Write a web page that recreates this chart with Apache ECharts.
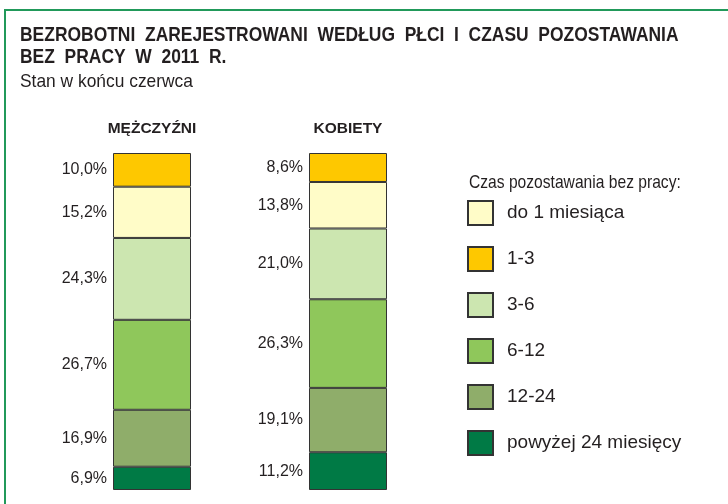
<!DOCTYPE html>
<html>
<head>
<meta charset="utf-8">
<script src="https://cdn.jsdelivr.net/npm/echarts@6/dist/echarts.min.js"></script>
<style>
  html, body { margin: 0; padding: 0; background: #fff; }
  #chart { width: 728px; height: 504px; }
</style>
</head>
<body>
<div id="chart"></div>
<script>
// groups (bars)
var groups = ["MĘŻCZYŹNI", "KOBIETY"];

// duration categories, stacked bottom -> top
var durations = ["powyżej 24 miesięcy", "12-24", "6-12", "3-6", "do 1 miesiąca", "1-3"];
var colors = ["#007a45", "#8fad6a", "#8fc75b", "#cce6b0", "#fffcc8", "#fec800"];

// percent shares, same order as durations: [men, women]
var over24 = [6.9, 11.2];
var m12to24 = [16.9, 19.1];
var m6to12 = [26.7, 26.3];
var m3to6 = [24.3, 21.0];
var upTo1 = [15.2, 13.8];
var m1to3 = [10.0, 8.6];
var values = [over24, m12to24, m6to12, m3to6, upTo1, m1to3];

// legend order as shown
var legendOrder = ["do 1 miesiąca", "1-3", "3-6", "6-12", "12-24", "powyżej 24 miesięcy"];

var font = "'Liberation Sans', Arial, sans-serif";
var ink = "#231f20";

// narrow-looking text: regular font squeezed horizontally
function squeezed(text, x, y, size, bold, sx) {
  return {
    type: "text",
    x: x,
    y: y,
    scaleX: sx,
    silent: true,
    style: {
      text: text,
      font: (bold ? "bold " : "") + size + "px " + font,
      fill: ink,
      textAlign: "left",
      textVerticalAlign: "middle"
    }
  };
}

var chart = echarts.init(document.getElementById("chart"));

var series = durations.map(function (name, i) {
  return {
    name: name,
    type: "bar",
    stack: "total",
    barWidth: 78,
    data: values[i],
    itemStyle: {
      color: colors[i],
      borderColor: "#333",
      borderWidth: 1
    },
    label: {
      show: true,
      position: "left",
      distance: 6,
      fontFamily: font,
      fontSize: 16,
      color: ink,
      formatter: function (p) {
        return p.value.toFixed(1).replace(".", ",") + "%";
      }
    },
    emphasis: { disabled: true },
    animation: false
  };
});

chart.setOption({
  animation: false,
  legend: {
    orient: "vertical",
    left: 467,
    top: 200,
    padding: 0,
    itemWidth: 25,
    itemHeight: 24,
    itemGap: 20,
    icon: "rect",
    data: legendOrder,
    selectedMode: false,
    textStyle: {
      fontFamily: font,
      fontSize: 19,
      color: ink,
      padding: [0, 0, 0, 9]
    }
  },
  grid: {
    left: 54,
    width: 392,
    top: 153,
    bottom: 14
  },
  xAxis: {
    type: "category",
    position: "top",
    data: groups,
    axisLine: { show: false },
    axisTick: { show: false },
    axisLabel: {
      margin: 16,
      fontFamily: font,
      fontWeight: "bold",
      fontSize: 15.5,
      color: ink
    }
  },
  yAxis: {
    type: "value",
    min: 0,
    max: 100,
    show: false
  },
  graphic: [
    squeezed("BEZROBOTNI  ZAREJESTROWANI  WEDŁUG  PŁCI  I  CZASU  POZOSTAWANIA", 20, 35, 20, true, 0.872),
    squeezed("BEZ  PRACY  W  2011  R.", 20, 57, 20, true, 0.872),
    squeezed("Stan w końcu czerwca", 20, 82, 19, false, 0.915),
    squeezed("Czas pozostawania bez pracy:", 469, 183, 19, false, 0.822),
    {
      type: "line",
      silent: true,
      shape: { x1: 4, y1: 10, x2: 728, y2: 10 },
      style: { stroke: "#21995a", lineWidth: 2 }
    },
    {
      type: "line",
      silent: true,
      shape: { x1: 5, y1: 9, x2: 5, y2: 504 },
      style: { stroke: "#21995a", lineWidth: 2 }
    }
  ],
  series: series
});
</script>
</body>
</html>
